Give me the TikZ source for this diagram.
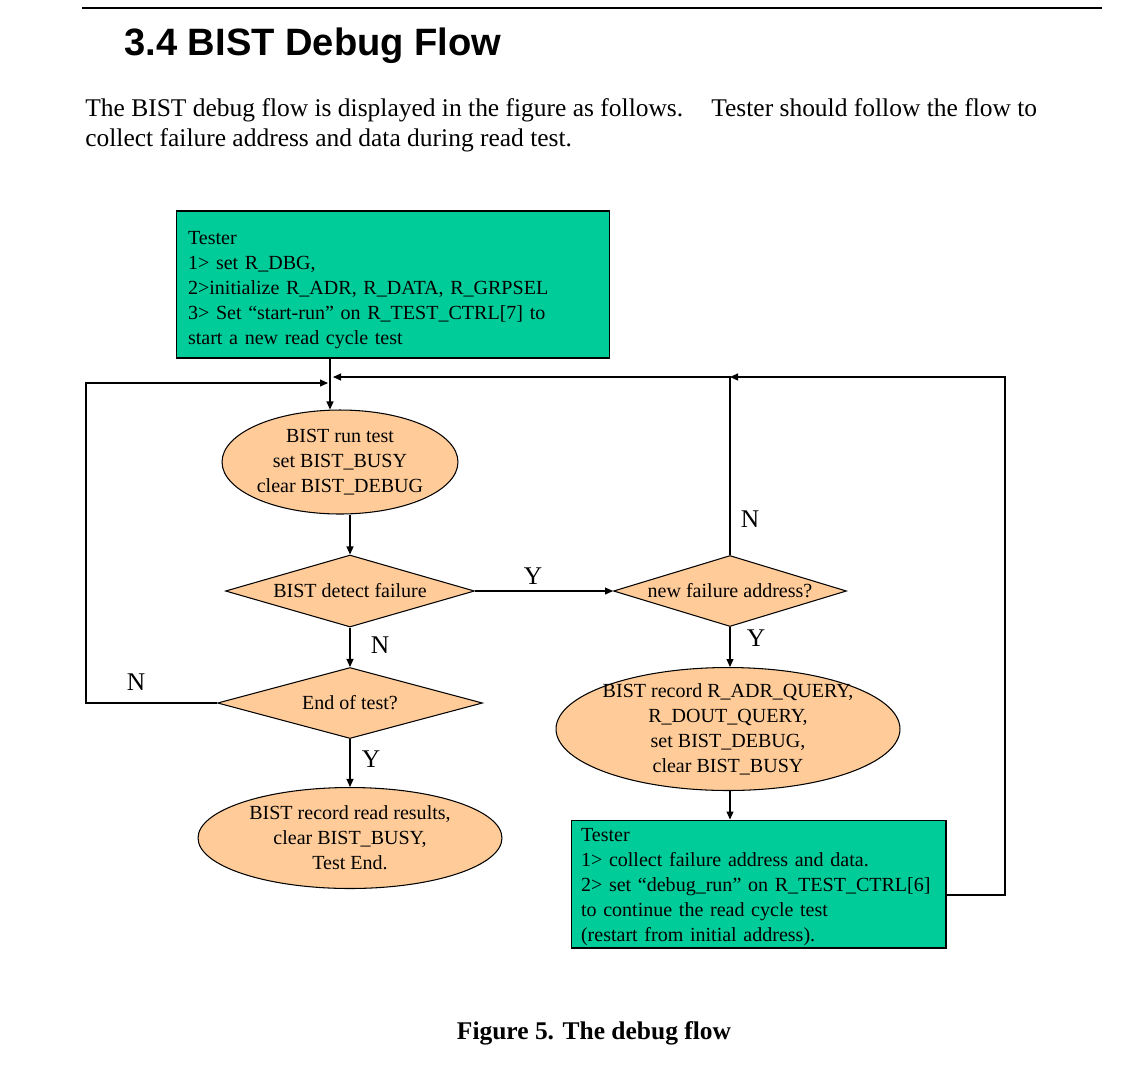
\documentclass[tikz,border=0pt]{standalone}
\usepackage{fontspec}
\setmainfont{Liberation Serif}
\newfontfamily\headfont{Liberation Sans}
\usetikzlibrary{shapes.geometric,arrows.meta}
\definecolor{testergreen}{RGB}{0,204,153}
\definecolor{bistpeach}{RGB}{255,204,153}
\newcommand{\boxfont}{\fontsize{11.4}{14.2}\selectfont}
\newcommand{\bodyfont}{\fontsize{14.5}{17}\selectfont}

\begin{document}
\begin{tikzpicture}[x=0.02cm,y=-0.02cm,
  tester/.style={draw,fill=testergreen,line width=0.6pt,font=\boxfont,align=left,inner ysep=0pt},
  action/.style={ellipse,draw,fill=bistpeach,line width=0.6pt,font=\boxfont,align=center,inner sep=0pt},
  decision/.style={diamond,draw,fill=bistpeach,line width=0.6pt,font=\boxfont,inner sep=0pt,aspect=3.6},
  flow/.style={line width=0.6pt,-{Triangle[length=1.6mm,width=1.4mm]}},
  answer/.style={font=\bodyfont,inner sep=0pt}]

\useasboundingbox (0,0) rectangle (1143,1073);

\coordinate (rule-left) at (82,8);
\coordinate (rule-right) at (1102,8);
\coordinate (trunk) at (330,383);
\coordinate (left-bend) at (86,383);
\coordinate (left-join) at (328,383);
\coordinate (right-join) at (333,377);
\coordinate (loop-top) at (730,377);
\coordinate (right-bend) at (1005,895);

\draw[line width=1.2pt] (rule-left) -- (rule-right);
\node[anchor=base west, inner sep=0pt, font=\headfont\bfseries\fontsize{21.7}{26}\selectfont] (title) at (124,55) {3.4 BIST Debug Flow};
\node[anchor=base west, inner sep=0pt, font=\bodyfont] (intro-a) at (85,116) {The BIST debug flow is displayed in the figure as follows.};
\node[anchor=base west, inner sep=0pt, font=\bodyfont] (intro-b) at (711,116) {Tester should follow the flow to};
\node[anchor=base west, inner sep=0pt, font=\bodyfont] (intro-c) at (85,146) {collect failure address and data during read test.};

\node[tester, text width=8.2cm, inner xsep=0.24cm, minimum width=8.68cm, minimum height=2.94cm] (tester1) at (393,284.5)
  {\rule{0pt}{0.48cm}Tester\\ 1> set R\_DBG,\\ 2>initialize R\_ADR, R\_DATA, R\_GRPSEL\\ 3> Set ``start-run'' on R\_TEST\_CTRL[7] to\\ start a new read cycle test};
\node[action, minimum width=4.72cm, minimum height=2.08cm] (run) at (340,462) {BIST run test\\ set BIST\_BUSY\\ clear BIST\_DEBUG};
\node[decision, minimum width=4.98cm, minimum height=1.44cm] (detect) at (350,591) {BIST detect failure};
\node[decision, minimum width=5.3cm, minimum height=1.42cm] (endtest) at (350,703) {End of test?};
\node[action, minimum width=6.08cm, minimum height=2.02cm] (done) at (350,838) {BIST record read results,\\ clear BIST\_BUSY,\\ Test End.};
\node[decision, minimum width=4.66cm, minimum height=1.42cm] (newfail) at (730,591) {new failure address?};
\node[action, inner xsep=-3.5pt, inner ysep=-2pt, minimum width=6.88cm, minimum height=2.46cm] (record) at (728,729)
  {BIST record R\_ADR\_QUERY,\\ R\_DOUT\_QUERY,\\ set BIST\_DEBUG,\\ clear BIST\_BUSY};
\node[tester, text width=7.1cm, inner xsep=0.2cm, minimum width=7.5cm, minimum height=2.56cm] (tester2) at (758.5,884)
  {\rule{0pt}{0.40cm}Tester\\ 1> collect failure address and data.\\ 2> set ``debug\_run'' on R\_TEST\_CTRL[6]\\ to continue the read cycle test\\ (restart from initial address).};

\node[answer] (detect-yes) at (533,576) {Y};
\node[answer] (detect-no) at (380,645) {N};
\node[answer] (endtest-no) at (136,682) {N};
\node[answer] (endtest-yes) at (371,759) {Y};
\node[answer] (newfail-no) at (750,519) {N};
\node[answer] (newfail-yes) at (756,638) {Y};

\draw[flow] (tester1.south -| trunk) -- (run.north -| trunk);
\draw[flow] (endtest.west) -| (left-bend) -- (left-join);
\draw[flow] (newfail.north) |- (right-join);
\draw[flow] (tester2.east |- right-bend) -- (right-bend) |- (loop-top);
\draw[flow] (detect.north |- run.south) -- (detect.north);
\draw[flow] (detect.east) -- (newfail.west);
\draw[flow] (detect.south) -- (endtest.north);
\draw[flow] (endtest.south) -- (done.north);
\draw[flow] (newfail.south) -- (newfail.south |- record.north);
\draw[flow] (newfail.south |- record.south) -- (newfail.south |- tester2.north);

\node[anchor=base, inner sep=0pt, font=\bfseries\bodyfont] (caption) at (594,1039) {Figure 5. The debug flow};

\end{tikzpicture}
\end{document}
